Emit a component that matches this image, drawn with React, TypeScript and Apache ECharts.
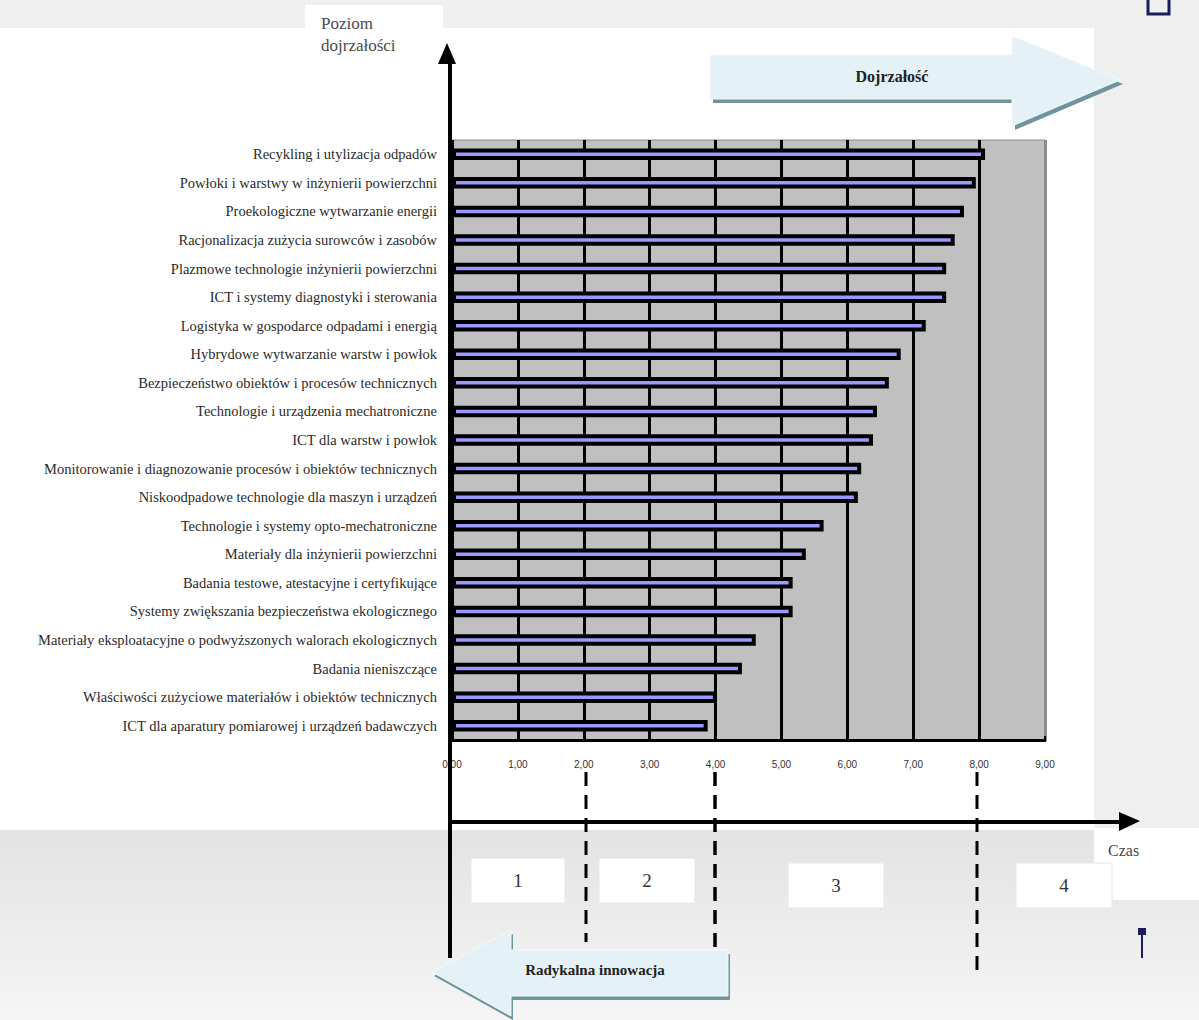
import React, { useEffect, useRef } from "react";
import * as echarts from "echarts";

const categories = [
  "Recykling i utylizacja odpadów",
  "Powłoki i warstwy w inżynierii powierzchni",
  "Proekologiczne wytwarzanie energii",
  "Racjonalizacja zużycia surowców i zasobów",
  "Plazmowe technologie inżynierii powierzchni",
  "ICT i systemy diagnostyki i sterowania",
  "Logistyka w gospodarce odpadami i energią",
  "Hybrydowe wytwarzanie warstw i powłok",
  "Bezpieczeństwo obiektów i procesów technicznych",
  "Technologie i urządzenia mechatroniczne",
  "ICT dla warstw i powłok",
  "Monitorowanie i diagnozowanie procesów i obiektów technicznych",
  "Niskoodpadowe technologie dla maszyn i urządzeń",
  "Technologie i systemy opto-mechatroniczne",
  "Materiały dla inżynierii powierzchni",
  "Badania testowe, atestacyjne i certyfikujące",
  "Systemy zwiększania bezpieczeństwa ekologicznego",
  "Materiały eksploatacyjne o podwyższonych walorach ekologicznych",
  "Badania nieniszczące",
  "Właściwości zużyciowe materiałów i obiektów technicznych",
  "ICT dla aparatury pomiarowej i urządzeń badawczych",
];

const values = [
  8.09, 7.95, 7.77, 7.63, 7.5, 7.5, 7.19, 6.81, 6.63, 6.45, 6.39, 6.21, 6.16,
  5.64, 5.37, 5.17, 5.17, 4.61, 4.4, 4.02, 3.88,
];

const xTickLabels = ["0,00", "1,00", "2,00", "3,00", "4,00", "5,00", "6,00", "7,00", "8,00", "9,00"];

const phaseLabels = ["1", "2", "3", "4"];

const serif = "Liberation Serif";

function rightArrow(x0: number, yTop: number, yBot: number, xh: number, hTop: number, hBot: number, tipX: number, tipY: number) {
  return [
    [x0, yTop],
    [xh, yTop],
    [xh, hTop],
    [tipX, tipY],
    [xh, hBot],
    [xh, yBot],
    [x0, yBot],
  ];
}

export default function App() {
  const ref = useRef<HTMLDivElement>(null);

  useEffect(() => {
    if (!ref.current) return;
    const chart = echarts.init(ref.current, null, { renderer: "svg" });

    const boxes = [
      { x: 471, y: 858, w: 94, h: 45 },
      { x: 599, y: 858, w: 96, h: 45 },
      { x: 788, y: 863, w: 96, h: 45 },
      { x: 1016, y: 863, w: 96, h: 45 },
    ];

    const dojArrow = rightArrow(710, 55, 99, 1012, 36, 126, 1120, 80);
    const dojShadow = dojArrow.map(([x, y]) => [x + 3, y + 4]);
    const radArrow = [
      [728, 950],
      [511, 950],
      [511, 930],
      [432, 972],
      [511, 1016],
      [511, 996],
      [728, 996],
    ];
    const radShadow = radArrow.map(([x, y]) => [x + 2, y + 4]);

    const graphic: any[] = [
      // backgrounds
      { type: "rect", z: -100, shape: { x: 0, y: 28, width: 1094, height: 802 }, style: { fill: "#ffffff" } },
      { type: "rect", z: -100, shape: { x: 305, y: 5, width: 138, height: 40 }, style: { fill: "#ffffff" } },
      {
        type: "rect",
        z: -100,
        shape: { x: 0, y: 830, width: 1199, height: 190 },
        style: {
          fill: new echarts.graphic.LinearGradient(0, 0, 0, 1, [
            { offset: 0, color: "#e2e3e2" },
            { offset: 1, color: "#f5f5f5" },
          ]),
        },
      },
      { type: "rect", z: -99, shape: { x: 1094, y: 828, width: 105, height: 72 }, style: { fill: "#ffffff" } },
      // phase boxes
      ...boxes.map((b, i) => ({
        type: "group",
        z: 50,
        children: [
          { type: "rect", shape: { x: b.x, y: b.y, width: b.w, height: b.h }, style: { fill: "#ffffff", stroke: "#e6e6e6", lineWidth: 1 } },
          {
            type: "text",
            style: {
              x: b.x + b.w / 2,
              y: b.y + b.h / 2,
              text: phaseLabels[i],
              align: "center",
              verticalAlign: "middle",
              fontFamily: serif,
              fontSize: 19,
              fill: "#333",
            },
          },
        ],
      })),
      // vertical axis with arrow
      { type: "line", z: 60, shape: { x1: 450, y1: 58, x2: 450, y2: 958 }, style: { stroke: "#000", lineWidth: 4 } },
      { type: "polygon", z: 60, shape: { points: [[447, 43], [438, 64], [456, 64]] }, style: { fill: "#000" } },
      // horizontal time axis
      { type: "line", z: 60, shape: { x1: 450, y1: 822, x2: 1122, y2: 822 }, style: { stroke: "#000", lineWidth: 4 } },
      { type: "polygon", z: 60, shape: { points: [[1140, 821], [1119, 812], [1119, 831]] }, style: { fill: "#000" } },
      // dashed phase dividers
      { type: "line", z: 60, shape: { x1: 586, y1: 772, x2: 586, y2: 942 }, style: { stroke: "#000", lineWidth: 3, lineDash: [14, 9] } },
      { type: "line", z: 60, shape: { x1: 715, y1: 772, x2: 715, y2: 948 }, style: { stroke: "#000", lineWidth: 3.5, lineDash: [14, 9] } },
      { type: "line", z: 60, shape: { x1: 977, y1: 772, x2: 977, y2: 975 }, style: { stroke: "#000", lineWidth: 3, lineDash: [14, 9] } },
      // Dojrzałość arrow
      { type: "polygon", z: 70, shape: { points: dojShadow }, style: { fill: "#6f949e" } },
      { type: "polygon", z: 71, shape: { points: dojArrow }, style: { fill: "#e4f1f6", stroke: "#f4f8fa", lineWidth: 1 } },
      {
        type: "text",
        z: 72,
        style: { x: 892, y: 76, text: "Dojrzałość", align: "center", verticalAlign: "middle", fontFamily: serif, fontWeight: "bold", fontSize: 16, fill: "#222" },
      },
      // Radykalna innowacja arrow
      { type: "polygon", z: 70, shape: { points: radShadow }, style: { fill: "#6f949e" } },
      { type: "polygon", z: 71, shape: { points: radArrow }, style: { fill: "#e4f1f6", stroke: "#f4f8fa", lineWidth: 1 } },
      {
        type: "text",
        z: 72,
        style: { x: 595, y: 970, text: "Radykalna innowacja", align: "center", verticalAlign: "middle", fontFamily: serif, fontWeight: "bold", fontSize: 15, fill: "#222" },
      },
      // axis titles
      {
        type: "text",
        z: 72,
        style: { x: 321, y: 12, text: "Poziom\ndojrzałości", lineHeight: 22, fontFamily: serif, fontSize: 17, fill: "#4a4a4a" },
      },
      {
        type: "text",
        z: 72,
        style: { x: 1108, y: 842, text: "Czas", fontFamily: serif, fontSize: 16, fill: "#4a4a4a" },
      },
      // decorative navy marks
      { type: "rect", z: 72, shape: { x: 1148, y: -10, width: 21, height: 24 }, style: { fill: "none", stroke: "#1c1c5a", lineWidth: 3 } },
      { type: "rect", z: 72, shape: { x: 1138, y: 928, width: 8, height: 7 }, style: { fill: "#1c1c5a" } },
      { type: "line", z: 72, shape: { x1: 1142, y1: 934, x2: 1142, y2: 958 }, style: { stroke: "#1c1c5a", lineWidth: 2 } },
    ];

    chart.setOption({
      animation: false,
      backgroundColor: "#efefef",
      grid: {
        left: 452,
        top: 140,
        width: 593,
        height: 600,
        show: true,
        backgroundColor: "#c0c0c0",
        borderColor: "#8a8a8a",
        borderWidth: 1,
      },
      xAxis: {
        type: "value",
        min: 0,
        max: 9,
        interval: 1,
        axisLine: { show: true, lineStyle: { color: "#000", width: 3 } },
        axisTick: { show: true, inside: true, length: 4, lineStyle: { color: "#000", width: 2 } },
        splitLine: {
          show: true,
          lineStyle: {
            color: ["#000", "#000", "#000", "#000", "#000", "#000", "#000", "#000", "#000", "#8a8a8a"],
            width: 3,
          },
        },
        axisLabel: {
          margin: 19,
          fontSize: 10,
          color: "#333",
          fontFamily: "Liberation Sans",
          formatter: (v: number) => xTickLabels[Math.round(v)] ?? "",
        },
      },
      yAxis: {
        type: "category",
        inverse: true,
        data: categories,
        axisLine: { show: false },
        axisTick: { show: false },
        axisLabel: {
          margin: 15,
          fontFamily: serif,
          fontSize: 14.5,
          color: "#2a2a2a",
        },
      },
      series: [
        {
          type: "bar",
          data: values,
          barWidth: 11.5,
          itemStyle: { color: "#9999ff", borderColor: "#000", borderWidth: 4 },
        },
      ],
      graphic,
    });

    return () => chart.dispose();
  }, []);

  return (
    <div
      ref={ref}
      style={{ position: "fixed", left: 0, top: 0, width: 1199, height: 1020 }}
    />
  );
}
